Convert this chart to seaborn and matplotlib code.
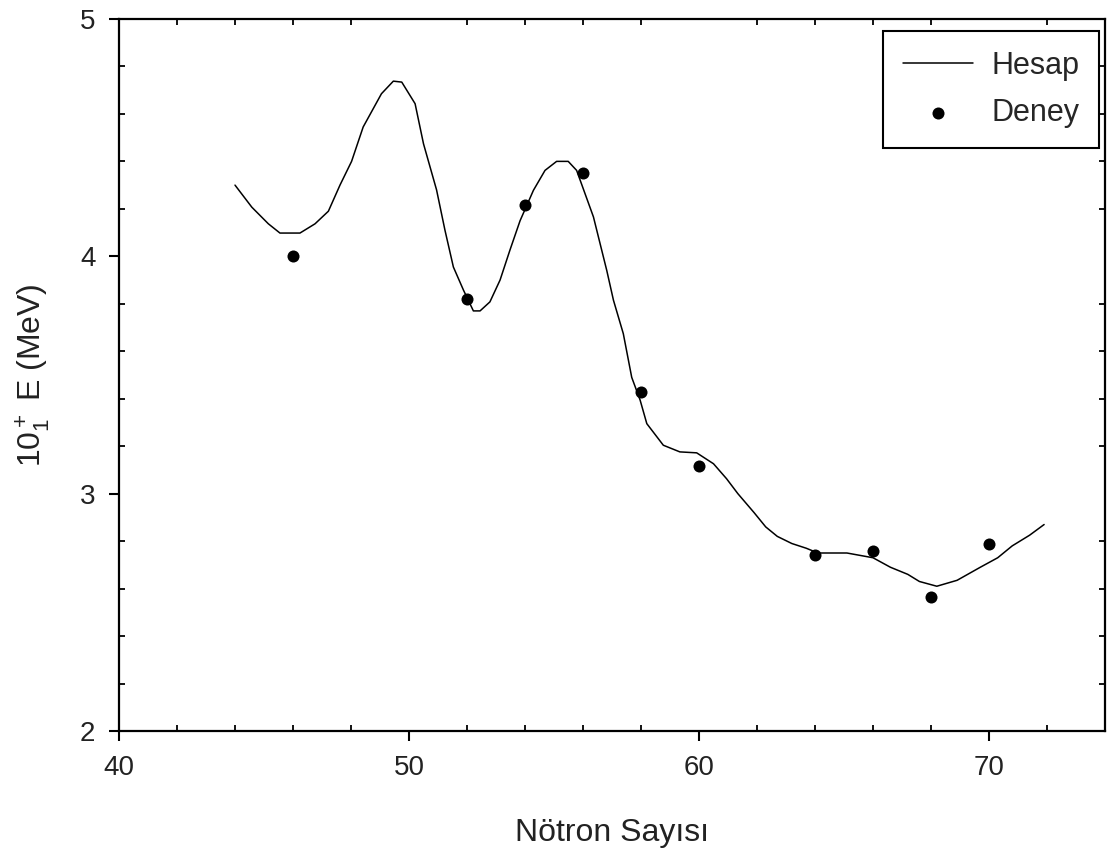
import matplotlib
matplotlib.use("Agg")
import matplotlib.pyplot as plt
from matplotlib.ticker import MultipleLocator
import seaborn as sns
import pandas as pd

# Hesap (calculated curve)
calc_n = [44.0, 44.58, 45.15, 45.55, 46.24, 46.76, 47.22, 47.62, 48.02, 48.42,
          49.05, 49.46, 49.75, 50.21, 50.5, 50.95, 51.24, 51.53, 51.88, 52.22,
          52.45, 52.79, 53.14, 53.48, 53.83, 54.29, 54.69, 55.09, 55.49, 55.78,
          56.36, 56.82, 57.05, 57.39, 57.68, 57.97, 58.2, 58.77, 59.34, 59.92,
          60.5, 60.95, 61.34, 61.9, 62.3, 62.7, 63.2, 63.7, 64.1, 65.1, 66.0,
          66.6, 67.2, 67.6, 68.2, 68.9, 69.7, 70.3, 70.8, 71.4, 71.9]
calc_e = [4.30, 4.207, 4.137, 4.098, 4.098, 4.137, 4.19, 4.30, 4.40, 4.545,
          4.685, 4.738, 4.734, 4.643, 4.474, 4.28, 4.11, 3.955, 3.857, 3.77,
          3.77, 3.808, 3.90, 4.026, 4.15, 4.278, 4.362, 4.40, 4.40, 4.362,
          4.166, 3.94, 3.815, 3.674, 3.49, 3.394, 3.295, 3.204, 3.176, 3.172,
          3.126, 3.063, 3.00, 2.92, 2.86, 2.82, 2.79, 2.77, 2.75, 2.75, 2.73,
          2.69, 2.66, 2.63, 2.61, 2.635, 2.69, 2.73, 2.78, 2.825, 2.87]

# Deney (experiment)
exp_n = [46, 52, 54, 56, 58, 60, 64, 66, 68, 70]
exp_e = [4.00, 3.82, 4.215, 4.35, 3.43, 3.115, 2.74, 2.76, 2.565, 2.79]

x_ticks = [40, 50, 60, 70]
y_ticks = [2, 3, 4, 5]

sns.set_style("white")
plt.rcParams['font.family'] = ['Liberation Sans', 'DejaVu Sans']
plt.rcParams['mathtext.fontset'] = 'custom'
plt.rcParams['mathtext.rm'] = 'Liberation Sans'
plt.rcParams['mathtext.it'] = 'Liberation Sans'

fig = plt.figure(figsize=(11.08, 8.58), dpi=100)
ax = fig.add_axes([0.1074, 0.148, 0.8899, 0.8299])

calc_df = pd.DataFrame({"n": calc_n, "e": calc_e})
exp_df = pd.DataFrame({"n": exp_n, "e": exp_e})

sns.lineplot(data=calc_df, x="n", y="e", ax=ax, color="black", linewidth=1.1,
             label="Hesap", sort=False)
sns.scatterplot(data=exp_df, x="n", y="e", ax=ax, color="black", s=75,
                marker="o", edgecolor="black", linewidth=0, label="Deney", zorder=3)

ax.set_xlim(40, 74)
ax.set_ylim(2, 5)
ax.set_xticks(x_ticks)
ax.set_yticks(y_ticks)
ax.xaxis.set_minor_locator(MultipleLocator(2))
ax.yaxis.set_minor_locator(MultipleLocator(0.2))

for s in ax.spines.values():
    s.set_linewidth(1.6)
    s.set_color("black")

ax.tick_params(which='major', direction='out', length=7, width=1.5,
               labelsize=20, pad=10, colors='black', labelcolor='#222222',
               top=False, right=False, bottom=True, left=True)
ax.tick_params(which='minor', direction='in', length=4, width=1.3,
               top=True, right=True, bottom=True, left=True, colors='black')

ax.set_xlabel("Nötron Sayısı", fontsize=23, color='#222222', labelpad=27)
ax.set_ylabel(r"10$_1^+$ E (MeV)", fontsize=23, color='#222222', labelpad=20)

leg = ax.legend(loc='upper right', bbox_to_anchor=(0.994, 0.983),
                borderaxespad=0, fontsize=22, frameon=True, fancybox=False,
                handlelength=2.3, handletextpad=0.6, borderpad=0.65,
                labelspacing=0.55)
leg.get_frame().set_edgecolor("black")
leg.get_frame().set_linewidth(1.5)
leg.get_frame().set_alpha(1)

fig.savefig("out.png", dpi=100)
